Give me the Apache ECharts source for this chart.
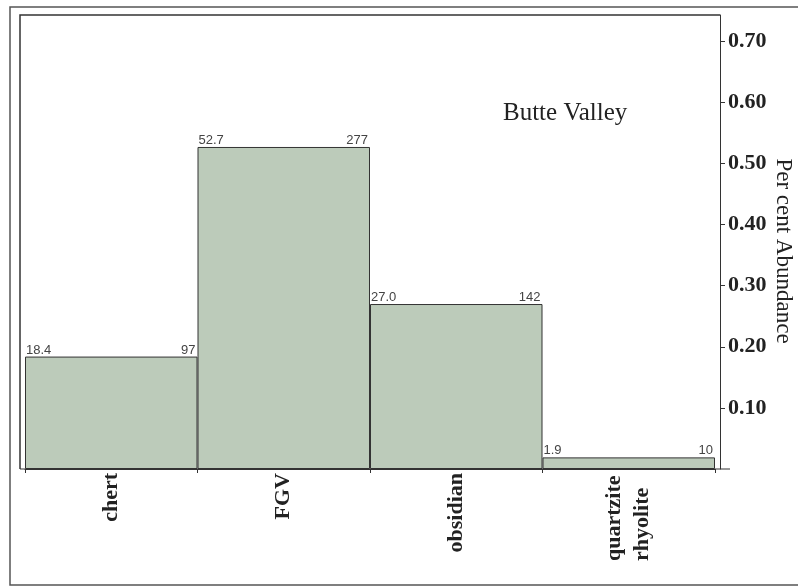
<!DOCTYPE html>
<html>
<head>
<meta charset="utf-8">
<script src="https://cdn.jsdelivr.net/npm/echarts@6/dist/echarts.min.js"></script>
<style>
  html, body { margin: 0; padding: 0; background: #fff; }
  #chart { width: 798px; height: 586px; }
</style>
</head>
<body>
<div id="chart"></div>
<script>
// Raw material categories and their share of the assemblage
const categories = ['chert', 'FGV', 'obsidian', 'quartzite\nrhyolite'];
const percents = [18.4, 52.7, 27.0, 1.9];   // per cent of total
const counts = [97, 277, 142, 10];          // number of pieces
const yTicks = [0.1, 0.2, 0.3, 0.4, 0.5, 0.6, 0.7];

const serif = '"Liberation Serif", "DejaVu Serif", serif';
const fill = '#bccbba';
const ink = '#333';

const fractions = percents.map(p => p / 100);

const chart = echarts.init(document.getElementById('chart'), null, { renderer: 'canvas' });

chart.setOption({
  backgroundColor: '#fff',
  animation: false,
  title: {
    text: 'Butte Valley',
    left: 498,
    top: 96,
    textStyle: { fontFamily: serif, fontSize: 25, fontWeight: 'normal', color: '#222' }
  },
  grid: { left: 25, right: 83, top: 15, bottom: 117, outerBoundsMode: 'none', containLabel: false },
  xAxis: {
    type: 'category',
    data: categories,
    axisLine: { show: true, lineStyle: { color: ink, width: 1 } },
    axisTick: { show: true, length: 4, lineStyle: { color: ink } },
    axisLabel: {
      rotate: 90,
      margin: 4,
      fontFamily: serif,
      fontSize: 22,
      fontWeight: 'bold',
      color: '#222',
      formatter: v => v.includes('\n')
        ? v.split('\n').map(s => '{m|' + s + '}').join('\n')
        : v,
      rich: {
        m: { width: 88, align: 'left', lineHeight: 28, fontFamily: serif, fontSize: 22, fontWeight: 'bold', color: '#222' }
      }
    }
  },
  yAxis: {
    type: 'value',
    position: 'right',
    offset: 5,
    min: 0,
    max: 0.743,
    name: 'Per cent Abundance',
    nameLocation: 'middle',
    nameRotate: -90,
    nameGap: 52,
    nameMoveOverlap: false,
    nameTextStyle: { fontFamily: serif, fontSize: 23, color: '#222', padding: [0, 0, 0, 18] },
    axisLine: { show: true, lineStyle: { color: ink, width: 1 } },
    axisTick: { show: true, length: 5, lineStyle: { color: ink }, customValues: yTicks },
    axisLabel: {
      margin: 8,
      fontFamily: serif,
      fontSize: 22,
      fontWeight: 'bold',
      color: '#222',
      customValues: yTicks,
      formatter: v => v.toFixed(2)
    },
    splitLine: { show: false }
  },
  series: [
    {
      type: 'bar',
      data: fractions,
      barWidth: '100%',
      barGap: '-100%',
      itemStyle: { color: fill, borderColor: ink, borderWidth: 1 },
      label: {
        show: true,
        position: [1, 0],
        verticalAlign: 'bottom',
        fontFamily: '"Liberation Sans", Arial, sans-serif',
        fontSize: 13,
        color: '#444',
        formatter: p => percents[p.dataIndex].toFixed(1)
      }
    },
    {
      type: 'bar',
      data: fractions,
      barWidth: '100%',
      barGap: '-100%',
      itemStyle: { color: 'rgba(0,0,0,0)' },
      label: {
        show: true,
        position: ['100%', 0],
        align: 'right',
        verticalAlign: 'bottom',
        offset: [-2, 0],
        fontFamily: '"Liberation Sans", Arial, sans-serif',
        fontSize: 13,
        color: '#444',
        formatter: p => String(counts[p.dataIndex])
      }
    }
  ],
  graphic: [
    {
      type: 'rect',
      shape: { x: 10, y: 7, width: 800, height: 578 },
      style: { fill: 'none', stroke: '#555', lineWidth: 1.5 },
      silent: true
    },
    {
      type: 'polyline',
      shape: { points: [[20, 469], [20, 15], [720, 15]] },
      style: { fill: 'none', stroke: ink, lineWidth: 1.5 },
      silent: true
    },
    {
      type: 'line',
      shape: { x1: 20, y1: 469, x2: 730, y2: 469 },
      style: { stroke: ink, lineWidth: 1 },
      silent: true
    }
  ]
});
</script>
</body>
</html>
